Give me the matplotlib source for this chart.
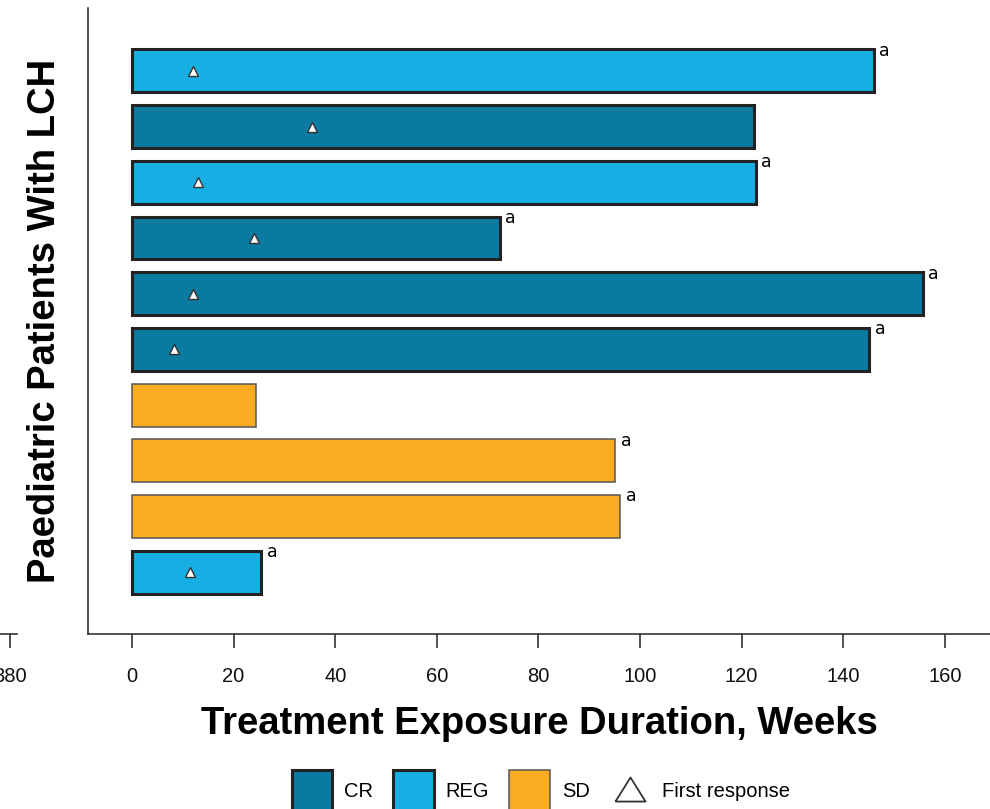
import matplotlib
matplotlib.use("Agg")
import matplotlib.pyplot as plt
from matplotlib.patches import Patch
from matplotlib.lines import Line2D

plt.rcParams['font.family'] = ['Liberation Sans', 'DejaVu Sans']

# One row per patient, top to bottom
responses = ["REG", "CR", "REG", "CR", "CR", "CR", "SD", "SD", "SD", "REG"]
exposure_weeks = [146.0, 122.4, 122.8, 72.4, 155.7, 145.1, 24.4, 95.1, 96.1, 25.4]
first_response_weeks = [12.0, 35.4, 13.0, 24.0, 12.0, 8.3, None, None, None, 11.4]
still_on_treatment = [True, False, True, True, True, True, False, True, True, True]
x_ticks = [0, 20, 40, 60, 80, 100, 120, 140, 160]

fill_colors = {"CR": "#0a7aa0", "REG": "#16aee3", "SD": "#f9ab21"}
edge_colors = {"CR": "#222222", "REG": "#222222", "SD": "#555555"}
edge_widths = {"CR": 2.2, "REG": 2.2, "SD": 1.1}

W, H = 990, 809
fig = plt.figure(figsize=(W / 100, H / 100), dpi=100)
ax = fig.add_axes([88 / W, 1 - 634 / H, 1 - 88 / W, (634 - 8) / H])

for i, (resp, w) in enumerate(zip(responses, exposure_weeks)):
    ax.barh(i, w, height=0.77, color=fill_colors[resp],
            edgecolor=edge_colors[resp], linewidth=edge_widths[resp], zorder=2)
    fr = first_response_weeks[i]
    if fr is not None:
        ax.plot(fr, i, marker='^', markersize=7.5, markerfacecolor='white',
                markeredgecolor='#333333', markeredgewidth=1.0, zorder=3)
    if still_on_treatment[i]:
        ax.annotate('a', xy=(w, i - 0.385), xytext=(4, -1),
                    textcoords='offset points', ha='left', va='center',
                    fontsize=12.5, color='black',
                    family=['DejaVu Sans'])

ax.set_ylim(len(responses) - 1 + 1.11, -1.13)
ax.set_xlim(-8.66, 168.9)
ax.set_xticks(x_ticks)
ax.set_yticks([])
for side in ['top', 'right']:
    ax.spines[side].set_visible(False)
for side in ['left', 'bottom']:
    ax.spines[side].set_color('#333333')
    ax.spines[side].set_linewidth(1.2)
ax.tick_params(axis='x', length=10, width=1.2, color='#333333', pad=14,
               labelsize=14.5, labelcolor='#111111')

ax.set_xlabel('Treatment Exposure Duration, Weeks', fontsize=27.5,
              fontweight='bold', labelpad=14)
ax.set_ylabel('Paediatric Patients With LCH', fontsize=27.5,
              fontweight='bold', labelpad=18)

# Edge of the neighbouring panel's axis
ax2 = fig.add_axes([0, 1 - 634 / H, 17 / W, 0.0001])
ax2.set_xlim(370, 387)
ax2.set_xticks([380])
ax2.set_yticks([])
for side in ['top', 'right', 'left']:
    ax2.spines[side].set_visible(False)
ax2.spines['bottom'].set_color('#333333')
ax2.spines['bottom'].set_linewidth(1.2)
ax2.tick_params(axis='x', length=10, width=1.2, color='#333333', pad=14,
                labelsize=14.5, labelcolor='#111111')

# Open triangle, wider than tall, sitting a little low in its legend slot
legend_triangle = [(-1.25, -1.5), (1.25, -1.5), (0, 0.5), (-1.25, -1.5)]
handles = [
    Patch(facecolor=fill_colors["CR"], edgecolor='#222222', linewidth=2.2, label='CR'),
    Patch(facecolor=fill_colors["REG"], edgecolor='#222222', linewidth=2.2, label='REG'),
    Patch(facecolor=fill_colors["SD"], edgecolor='#555555', linewidth=1.1, label='SD'),
    Line2D([], [], linestyle='none', marker=legend_triangle,
           markersize=26, markerfacecolor='none', markeredgecolor='#333333',
           markeredgewidth=1.3, label='First response'),
]
fig.legend(handles=handles, loc='upper center', ncol=4,
           bbox_to_anchor=(541 / W, 1 - 770 / H), frameon=False,
           fontsize=14.5, handlelength=2.0, handleheight=2.8,
           handletextpad=0.6, columnspacing=1.0, borderpad=0,
           borderaxespad=0)

fig.savefig('out.png', dpi=100)
